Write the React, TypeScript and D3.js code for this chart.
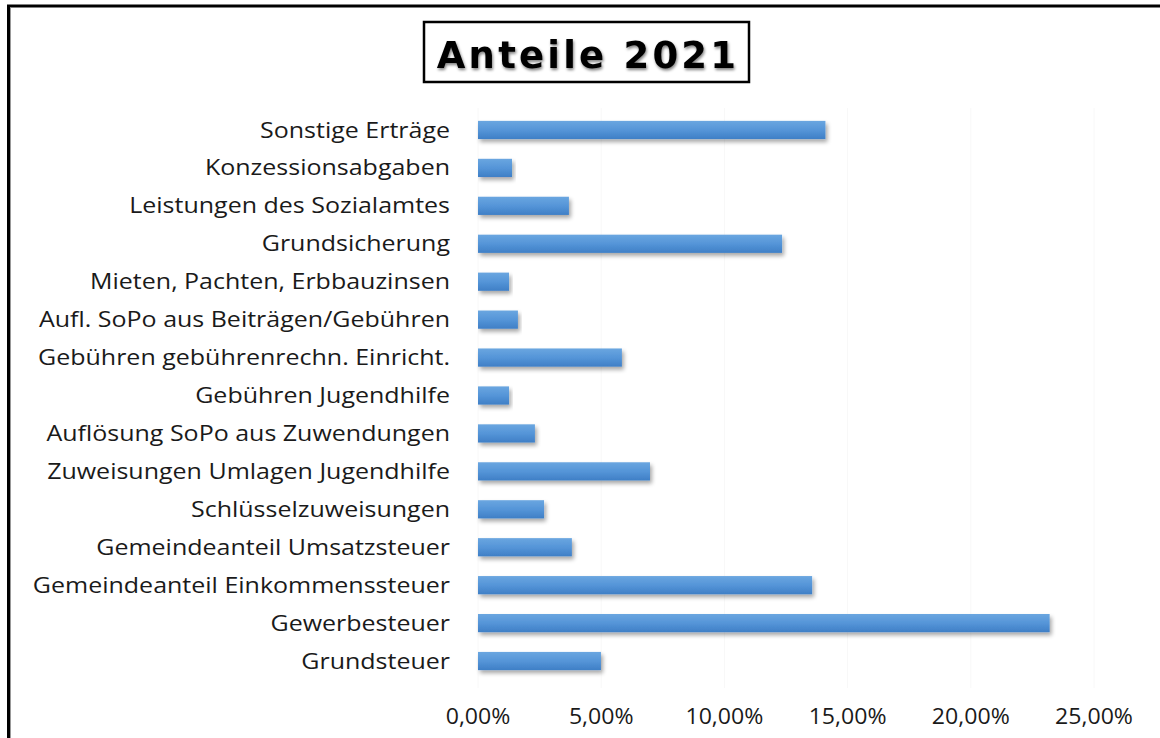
import React from "react";
import * as d3 from "d3";

const categories = [
  "Sonstige Erträge",
  "Konzessionsabgaben",
  "Leistungen des Sozialamtes",
  "Grundsicherung ",
  "Mieten, Pachten, Erbbauzinsen",
  "Aufl. SoPo aus Beiträgen/Gebühren",
  "Gebühren gebührenrechn. Einricht.",
  "Gebühren Jugendhilfe",
  "Auflösung SoPo aus Zuwendungen",
  "Zuweisungen Umlagen Jugendhilfe",
  "Schlüsselzuweisungen",
  "Gemeindeanteil Umsatzsteuer",
  "Gemeindeanteil Einkommenssteuer",
  "Gewerbesteuer",
  "Grundsteuer",
];
const values = [14.1, 1.38, 3.69, 12.34, 1.26, 1.62, 5.84, 1.26, 2.31, 6.98, 2.68, 3.81, 13.56, 23.2, 4.99];
const ticks = [0, 5, 10, 15, 20, 25];
const title = "Anteile 2021";

export default function App() {
  const W = 1160, H = 738;
  const x = d3.scaleLinear().domain([0, 25]).range([478, 1094]);
  const y = d3.scaleBand().domain(categories).range([111, 680]).paddingInner(0.52).paddingOuter(0.26);
  const fmt = (v: number) => v.toFixed(2).replace(".", ",") + "%";
  const labelX = 450;
  return (
    <svg width={W} height={H} style={{ position: "absolute", left: 0, top: 0, background: "#fff" }}>
      <defs>
        <linearGradient id="barGrad" x1="0" y1="0" x2="0" y2="1">
          <stop offset="0" stopColor="#6aa6e0" />
          <stop offset="0.5" stopColor="#5595d8" />
          <stop offset="1" stopColor="#3f7fc6" />
        </linearGradient>
        <filter id="shadow" x="-5%" y="-30%" width="115%" height="190%">
          <feGaussianBlur in="SourceAlpha" stdDeviation="2" />
          <feOffset dx="2" dy="3" result="b" />
          <feComponentTransfer><feFuncA type="linear" slope="0.35" /></feComponentTransfer>
          <feMerge><feMergeNode /><feMergeNode in="SourceGraphic" /></feMerge>
        </filter>
        <filter id="tshadow" x="-10%" y="-30%" width="120%" height="170%">
          <feGaussianBlur in="SourceAlpha" stdDeviation="1.8" />
          <feOffset dx="1" dy="2" result="b" />
          <feComponentTransfer><feFuncA type="linear" slope="0.5" /></feComponentTransfer>
          <feMerge><feMergeNode /><feMergeNode in="SourceGraphic" /></feMerge>
        </filter>
      </defs>
      {/* outer frame */}
      <rect x={8.5} y={6} width={1200} height={800} fill="none" stroke="#000" strokeWidth={3} />
      <line x1={10.5} y1={7.5} x2={10.5} y2={H} stroke="#999" strokeWidth={1} />
      {/* faint gridlines */}
      {ticks.map((t) => (
        <line key={t} x1={x(t)} x2={x(t)} y1={108} y2={688} stroke="#f8f8f8" strokeWidth={1} />
      ))}
      {/* title */}
      <rect x={424} y={22} width={325} height={60} fill="#fff" stroke="#000" strokeWidth={2.5} />
      <text x={588} y={68} textAnchor="middle" fontFamily="DejaVu Sans" fontWeight="bold" fontSize={37}
        letterSpacing={3.2} fill="#000" filter="url(#tshadow)">{title}</text>
      {/* bars */}
      {categories.map((c, i) => (
        <g key={c}>
          <rect x={x(0)} y={y(c)!} width={x(values[i]) - x(0)} height={y.bandwidth()}
            fill="url(#barGrad)" filter="url(#shadow)" />
          <g transform={`translate(${labelX},${y(c)! + y.bandwidth() / 2}) scale(1.19,1)`}>
            <text x={0} y={0} dy="0.36em" textAnchor="end"
              fontFamily="Open Sans" fontSize={21} fill="#1a1a1a">{c}</text>
          </g>
        </g>
      ))}
      {ticks.map((t) => (
        <g key={t} transform={`translate(${x(t)},724) scale(1.1,1)`}>
          <text x={0} y={0} textAnchor="middle" fontFamily="Open Sans" fontSize={21} fill="#1a1a1a">{fmt(t)}</text>
        </g>
      ))}
    </svg>
  );
}
